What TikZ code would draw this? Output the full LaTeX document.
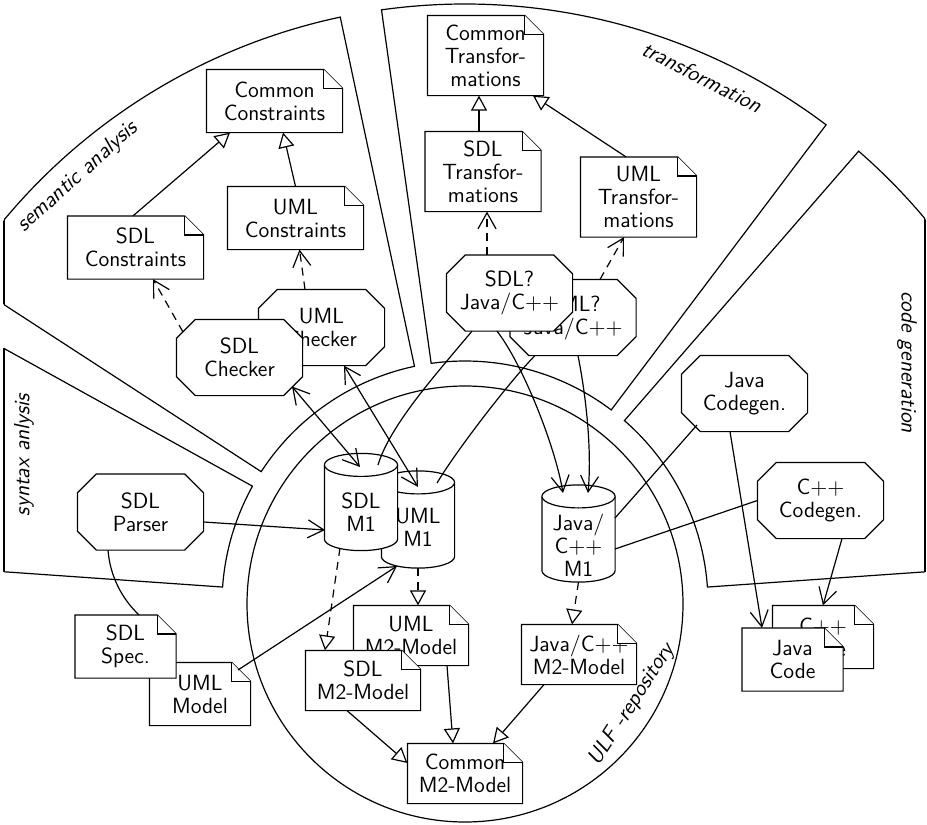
\documentclass[tikz,border=0pt]{standalone}
\usetikzlibrary{arrows.meta,calc}

\makeatletter
% corner values of a rectangular shape, plus the same corners moved inwards by #1
\def\dn@corners#1{%
  \pgfmathsetlength\pgfutil@tempdima{#1}%
  \southwest \edef\dn@xa{\the\pgf@x}\edef\dn@ya{\the\pgf@y}%
  \northeast \edef\dn@xb{\the\pgf@x}\edef\dn@yb{\the\pgf@y}%
  \pgf@xc=\dn@xa\advance\pgf@xc by \pgfutil@tempdima\edef\dn@xl{\the\pgf@xc}%
  \pgf@xc=\dn@xb\advance\pgf@xc by -\pgfutil@tempdima\edef\dn@xr{\the\pgf@xc}%
  \pgf@yc=\dn@ya\advance\pgf@yc by \pgfutil@tempdima\edef\dn@yl{\the\pgf@yc}%
  \pgf@yc=\dn@yb\advance\pgf@yc by -\pgfutil@tempdima\edef\dn@yu{\the\pgf@yc}%
}
\def\dn@rectanchors{%
  \inheritsavedanchors[from=rectangle]%
  \inheritanchorborder[from=rectangle]%
  \inheritanchor[from=rectangle]{center}%
  \inheritanchor[from=rectangle]{north}%
  \inheritanchor[from=rectangle]{south}%
  \inheritanchor[from=rectangle]{east}%
  \inheritanchor[from=rectangle]{west}%
  \inheritanchor[from=rectangle]{north east}%
  \inheritanchor[from=rectangle]{north west}%
  \inheritanchor[from=rectangle]{south east}%
  \inheritanchor[from=rectangle]{south west}%
  \inheritanchor[from=rectangle]{mid}%
  \inheritanchor[from=rectangle]{base}%
}

% document symbol: rectangle whose top-right corner is folded over
\pgfkeys{/pgf/note fold/.initial=9.5pt}
\pgfdeclareshape{docnote}{%
  \dn@rectanchors
  \backgroundpath{%
    \dn@corners{\pgfkeysvalueof{/pgf/note fold}}%
    \pgfpathmoveto{\pgfqpoint{\dn@xa}{\dn@ya}}%
    \pgfpathlineto{\pgfqpoint{\dn@xa}{\dn@yb}}%
    \pgfpathlineto{\pgfqpoint{\dn@xr}{\dn@yb}}%
    \pgfpathlineto{\pgfqpoint{\dn@xb}{\dn@yu}}%
    \pgfpathlineto{\pgfqpoint{\dn@xb}{\dn@ya}}%
    \pgfpathclose
  }%
  \foregroundpath{%
    \dn@corners{\pgfkeysvalueof{/pgf/note fold}}%
    \pgfpathmoveto{\pgfqpoint{\dn@xr}{\dn@yb}}%
    \pgfpathlineto{\pgfqpoint{\dn@xr}{\dn@yu}}%
    \pgfpathlineto{\pgfqpoint{\dn@xb}{\dn@yu}}%
  }%
}

% tool symbol: rectangle with all four corners cut off
\pgfkeys{/pgf/octo cut/.initial=9.5pt}
\pgfdeclareshape{octo}{%
  \dn@rectanchors
  \backgroundpath{%
    \dn@corners{\pgfkeysvalueof{/pgf/octo cut}}%
    \pgfpathmoveto{\pgfqpoint{\dn@xl}{\dn@ya}}%
    \pgfpathlineto{\pgfqpoint{\dn@xr}{\dn@ya}}%
    \pgfpathlineto{\pgfqpoint{\dn@xb}{\dn@yl}}%
    \pgfpathlineto{\pgfqpoint{\dn@xb}{\dn@yu}}%
    \pgfpathlineto{\pgfqpoint{\dn@xr}{\dn@yb}}%
    \pgfpathlineto{\pgfqpoint{\dn@xl}{\dn@yb}}%
    \pgfpathlineto{\pgfqpoint{\dn@xa}{\dn@yu}}%
    \pgfpathlineto{\pgfqpoint{\dn@xa}{\dn@yl}}%
    \pgfpathclose
  }%
}

% model store: upright cylinder
\pgfkeys{/pgf/cyl ry/.initial=5.75pt}
\def\dn@cylradii{%
  \pgf@xc=\dn@xb\advance\pgf@xc by -\dn@xa\divide\pgf@xc by 2\edef\dn@rx{\the\pgf@xc}%
  \edef\dn@ry{\the\pgfutil@tempdima}%
}
\pgfdeclareshape{dbcyl}{%
  \dn@rectanchors
  \backgroundpath{%
    \dn@corners{\pgfkeysvalueof{/pgf/cyl ry}}\dn@cylradii
    \pgfpathmoveto{\pgfqpoint{\dn@xa}{\dn@yu}}%
    \pgfpathlineto{\pgfqpoint{\dn@xa}{\dn@yl}}%
    \pgfpatharc{180}{360}{\dn@rx and \dn@ry}%
    \pgfpathlineto{\pgfqpoint{\dn@xb}{\dn@yu}}%
    \pgfpatharc{0}{180}{\dn@rx and \dn@ry}%
    \pgfpathclose
  }%
  \foregroundpath{%
    \dn@corners{\pgfkeysvalueof{/pgf/cyl ry}}\dn@cylradii
    \pgfpathmoveto{\pgfqpoint{\dn@xa}{\dn@yu}}%
    \pgfpatharc{180}{360}{\dn@rx and \dn@ry}%
  }%
}
\makeatother

% annular sector around the repository centre, between two angles
\newcommand\sectorpath[2]{($(C)+(#1:243)$) -- ($(C)+(#1:600)$)
  arc[start angle=#1,end angle=#2,radius=600] -- ($(C)+(#2:243)$)
  arc[start angle=#2,end angle=#1,radius=243] -- cycle}

\begin{document}
\begin{tikzpicture}[x=0.5pt,y=-0.5pt,line width=0.6pt,
  every node/.style={font=\sffamily\fontsize{11}{11.5}\selectfont,align=center,inner sep=0pt},
  doc/.style 2 args={docnote,draw,fill=white,minimum width=#1,minimum height=#2},
  tool/.style={octo,draw,fill=white,minimum width=62.5pt,minimum height=37.5pt},
  store/.style={dbcyl,draw,fill=white,minimum width=36pt,minimum height=48pt},
  area/.style={font=\sffamily\itshape\fontsize{11}{11.5}\selectfont},
  dsh/.style={dash pattern=on 4pt off 3pt},
  gen/.style={-{Triangle[open,length=7.5pt,width=8pt]}},
  impl/.style={dsh,gen},
  nav/.style={-{Straight Barb[length=8pt,width=9pt]}},
  dep/.style={dsh,nav},
  nav2/.style={{Straight Barb[length=8pt,width=9pt]}-{Straight Barb[length=8pt,width=9pt]}}]

\useasboundingbox (0,0) rectangle (927,825);
\coordinate (C) at (465,604);

% the four tool areas around the repository
\foreach \a/\b in {-176/-151,-147/-102,-98/-53,-49/-4}{
  \begin{scope}
    \clip (4,-20) rectangle (925,900);
    \draw \sectorpath{\a}{\b};
  \end{scope}
  \begin{scope}
    \clip \sectorpath{\a}{\b};
    \draw (4,-20) rectangle (925,900);
  \end{scope}
}
% the repository
\draw (C) circle[radius=218];

% area names
\node[area,rotate=42] (lsem) at (78,177) {semantic analysis};
\node[area,rotate=-27] (ltrans) at (702,77) {transformation};
\node[area,rotate=90] (lsyn) at (24,455) {syntax anlysis};
\node[area,rotate=-90] (lcode) at (907,362) {code generation};
\node[area,rotate=57] (lulf) at (632,705) {ULF -repository};

% semantic analysis
\node[doc={67.5pt}{31pt}] (ccons) at (274.5,101) {Common\\Constraints};
\node[doc={67.5pt}{31pt}] (umlcons) at (295.5,218) {UML\\Constraints};
\node[doc={67.5pt}{31pt}] (sdlcons) at (135.5,247.5) {SDL\\Constraints};
\node[tool] (umlchk) at (321.5,327.5) {UML\\Checker};
\node[tool] (sdlchk) at (239.5,357.5) {SDL\\Checker};

% transformation
\node[doc={57.5pt}{39.5pt}] (ctrans) at (485.5,55.5) {Common\\Transfor-\\mations};
\node[doc={57.5pt}{39.5pt}] (sdltrans) at (483,171.5) {SDL\\Transfor-\\mations};
\node[doc={57.5pt}{39.5pt}] (umltrans) at (638.5,197) {UML\\Transfor-\\mations};
\node[tool] (umlq) at (573,317.5) {UML?\\Java$/$C$++$};
\node[tool] (sdlq) at (509.5,293) {SDL?\\Java$/$C$++$};

% syntax analysis
\node[tool] (parser) at (140.5,512) {SDL\\Parser};
\node[doc={50pt}{31pt}] (umlmodel) at (200,694) {UML\\Model};
\node[doc={50pt}{31pt}] (sdlspec) at (125.5,646.5) {SDL\\Spec.};

% repository contents
\node[store] (umlm1) at (418,519.5) {};
\node (umlm1t) at (418,527) {UML\\M1};
\node[store] (sdlm1) at (361,502) {};
\node (sdlm1t) at (361,512) {SDL\\M1};
\node[store] (jm1) at (578.5,533.5) {};
\node (jm1t) at (578.5,545) {Java$/$\\C$++$\\M1};
\node[doc={57pt}{29.5pt}] (umlm2) at (411,635.5) {UML\\M2-Model};
\node[doc={57pt}{29.5pt}] (sdlm2) at (363,680.5) {SDL\\M2-Model};
\node[doc={57pt}{29.5pt}] (jm2) at (579,654.5) {Java$/$C$++$\\M2-Model};
\node[doc={57pt}{29.5pt}] (cm2) at (465,773.5) {Common\\M2-Model};

% code generation
\node[tool] (javacg) at (744.5,393.5) {Java\\Codegen.};
\node[tool] (cppcg) at (820.5,500.5) {C$++$\\Codegen.};
\node[doc={50pt}{31pt}] (cppcode) at (823,637) {C$++$\\Code};
\node[doc={50pt}{31pt}] (javacode) at (792.5,659.5) {Java\\Code};

% connectors
\draw[gen] ($(sdlcons.north)+(-2.5,0)$) -- ($(ccons.south)+(-44.5,0)$);
\draw[gen] (umlcons.north) -- ($(ccons.south)+(8.5,0)$);
\draw[dep] ($(sdlchk.center)+(-56.5,-25.5)$) -- ($(sdlcons.south)+(17.5,0)$);
\draw[dep] ($(umlchk.north)+(-16.5,0)$) -- ($(umlcons.south)+(4,0)$);
\draw[nav2] ($(sdlchk.center)+(52.5,29)$) -- ($(sdlm1.center)+(-1,-35)$);
\draw[nav2] ($(umlchk.south)+(22.5,0)$) -- ($(umlm1.center)+(0,-32.5)$);
\draw[nav] ($(parser.east)+(0,10)$) -- ($(sdlm1.center)+(-36,28)$);
\draw ($(parser.south)+(-32.5,0)$) .. controls +(2,26) and +(-17,-16) .. ($(sdlspec.north)+(13.5,0)$);
\draw[nav] ($(umlmodel.center)+(38,-24)$) -- ($(umlm1.center)+(-21,46.5)$);
\draw[impl] ($(sdlm1.center)+(-21,46)$) -- ($(sdlm2.north)+(-38,0)$);
\draw[impl] ($(umlm1.center)+(0,48.5)$) -- ($(umlm2.north)+(7,0)$);
\draw[impl] ($(jm1.center)+(0,48.5)$) -- ($(jm2.north)+(-7,0)$);
\draw[gen] ($(sdlm2.south)+(-16,0)$) -- ($(cm2.west)+(0,-10.5)$);
\draw[gen] ($(umlm2.south)+(36,0)$) -- ($(cm2.north)+(-12,0)$);
\draw[gen] ($(jm2.south)+(-35,0)$) -- ($(cm2.north)+(28,0)$);
\draw[dep] ($(sdlq.north)+(-22.5,0)$) -- ($(sdltrans.south)+(4,0)$);
\draw[dep] ($(umlq.north)+(27,0)$) -- ($(umltrans.south)+(-14.5,0)$);
\draw[gen] ($(sdltrans.north)+(-4,0)$) -- ($(ctrans.south)+(-6.5,0)$);
\draw[gen] ($(umltrans.north)+(-12.5,0)$) -- ($(ctrans.south)+(47.5,0)$);
\draw ($(sdlq.south)+(-37.5,0)$) .. controls +(-35,42) and +(12,-40) .. ($(sdlm1.center)+(17,-37)$);
\draw[nav] ($(sdlq.south)+(-12.5,0)$) .. controls +(25,32) and +(-8,-48) .. ($(jm1.center)+(-15.5,-40.5)$);
\draw[nav] ($(umlq.south)+(5,0)$) .. controls +(8,40) and +(4,-43) .. ($(jm1.center)+(9.5,-40.5)$);
\draw ($(umlq.south)+(-38,0)$) .. controls +(-23,23) and +(21,-35) .. ($(umlm1.center)+(19,-36.5)$);
\draw ($(javacg.center)+(-47.5,31.5)$) -- ($(jm1.center)+(36.5,-15.5)$);
\draw (cppcg.west) -- ($(jm1.center)+(36.5,15.5)$);
\draw[nav] ($(javacg.south)+(-14.5,0)$) -- ($(javacode.north)+(-30.5,0)$);
\draw[nav] ($(cppcg.south)+(21.5,0)$) -- (cppcode.north);
\end{tikzpicture}
\end{document}
